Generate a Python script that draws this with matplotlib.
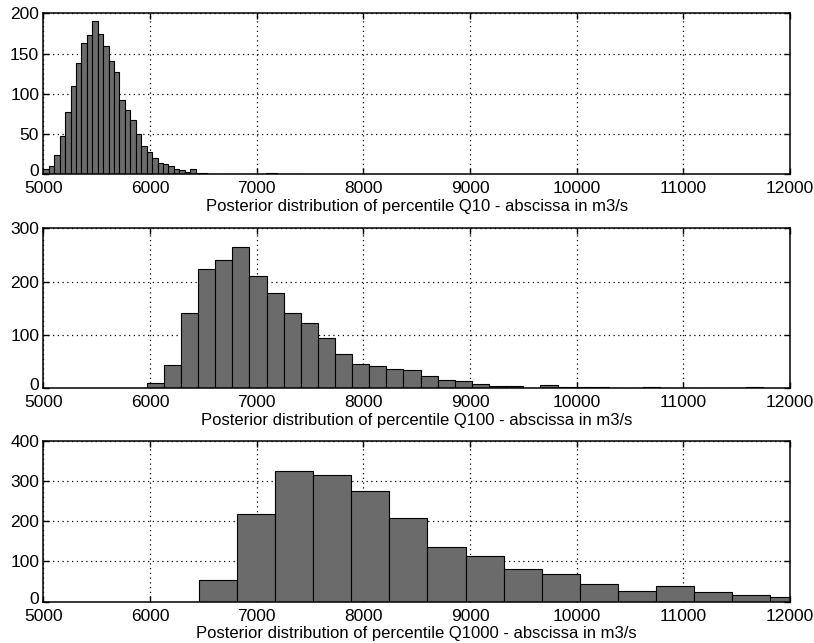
import matplotlib
matplotlib.use("Agg")
import matplotlib.pyplot as plt
import matplotlib.transforms as mtransforms
import numpy as np

plt.rcParams["font.family"] = ["Liberation Sans", "DejaVu Sans"]

# Q10 histogram: first bin edge, bin width, counts
q10_start = 5000
q10_width = 51
q10_counts = [7, 10, 24, 47, 77, 110, 138, 163, 173, 190,
              174, 159, 141, 127, 92, 80, 67, 50, 35, 28,
              20, 14, 13, 10, 7, 5, 3, 7, 2, 2,
              0, 1, 0, 0, 0, 0, 1, 0, 0, 0,
              0, 2, 2, 0, 0, 0, 0, 1]

# Q100 histogram
q100_start = 5969
q100_width = 160.5
q100_counts = [10, 43, 141, 223, 241, 265, 210, 179, 141, 122,
               94, 64, 46, 41, 37, 34, 23, 15, 14, 8,
               4, 4, 0, 6, 2, 2, 2, 0, 0, 2,
               0, 0, 0, 0, 0, 2]

# Q1000 histogram
q1000_start = 6459
q1000_width = 357
q1000_counts = [54, 217, 324, 314, 275, 209, 136, 114, 81, 69,
                44, 26, 39, 23, 17, 11]

x_ticks = [5000, 6000, 7000, 8000, 9000, 10000, 11000, 12000]
xlabels = ["Posterior distribution of percentile Q10 - abscissa in m3/s",
           "Posterior distribution of percentile Q100 - abscissa in m3/s",
           "Posterior distribution of percentile Q1000 - abscissa in m3/s"]
y_ticks = [[0, 50, 100, 150, 200], [0, 100, 200, 300], [0, 100, 200, 300, 400]]

panels = [(q10_start, q10_width, q10_counts),
          (q100_start, q100_width, q100_counts),
          (q1000_start, q1000_width, q1000_counts)]

# axes boxes in figure fraction: left, bottom, width, height
boxes = [[0.0532, 0.7289, 0.9173, 0.2504],
         [0.0532, 0.3961, 0.9173, 0.2488],
         [0.0532, 0.0642, 0.9173, 0.2504]]

fig = plt.figure(figsize=(8.14, 6.43), dpi=100)
lift = mtransforms.ScaledTranslation(0, 3 / 72, fig.dpi_scale_trans)

for box, (start, width, counts), yt, label in zip(boxes, panels, y_ticks, xlabels):
    ax = fig.add_axes(box)
    counts = np.asarray(counts, dtype=float)
    edges = start + width * np.arange(len(counts))
    ax.bar(edges, counts, width=width, align="edge", color="#6b6b6b",
           edgecolor="black", linewidth=0.8, zorder=2)
    ax.set_xlim(5000, 12000)
    ax.set_ylim(yt[0], yt[-1])
    ax.set_xticks(x_ticks)
    ax.set_yticks(yt)
    ax.grid(True, color="black", linestyle=(0, (1, 2.8)), linewidth=0.9, zorder=1)
    ax.set_axisbelow(True)
    ax.tick_params(direction="in", top=True, right=True, length=4, width=1,
                   labelsize=12.5, colors="black")
    ax.tick_params(axis="x", pad=5)
    ax.tick_params(axis="y", pad=3)
    for s in ax.spines.values():
        s.set_linewidth(1.1)
        s.set_zorder(3)
    ax.set_xlabel(label, fontsize=12, labelpad=2)
    # keep the "0" of the y axis clear of the "5000" below it
    zero = ax.get_yticklabels()[0]
    zero.set_transform(zero.get_transform() + lift)

fig.savefig("out.png", dpi=100)
